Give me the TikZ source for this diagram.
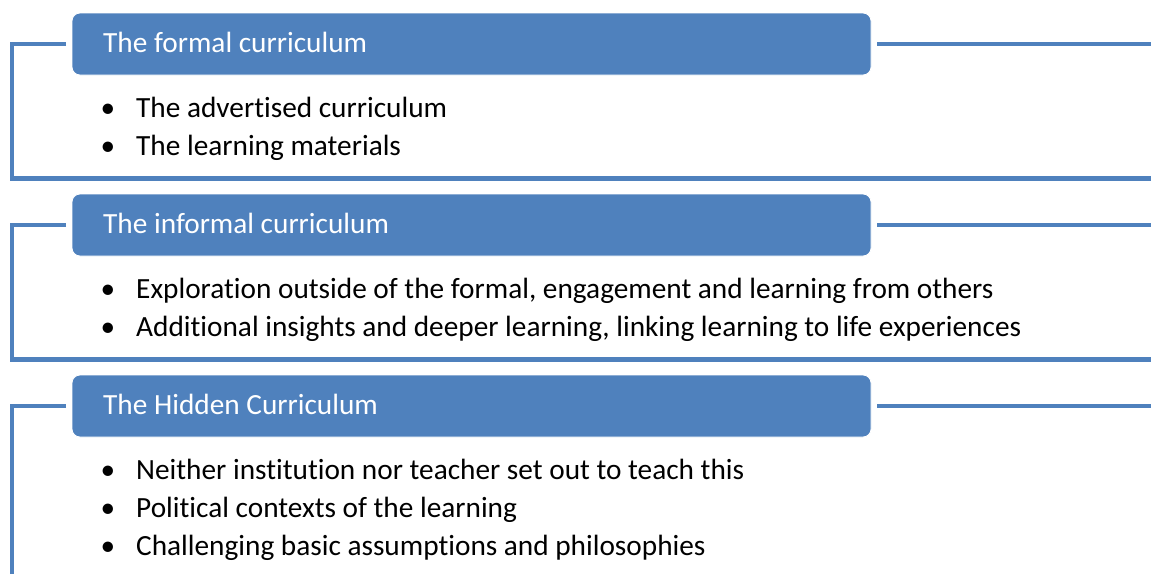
\documentclass[tikz,border=0pt]{standalone}
\usepackage{fontspec}
\setmainfont{Carlito}[RawFeature={-liga}]
\definecolor{obl}{HTML}{4F81BD}
\begin{document}
\begin{tikzpicture}[x=1pt,y=-1pt,
  headbox/.style={fill=obl,draw=white,line width=0.8pt,rounded corners=8pt,minimum width=799pt,minimum height=62pt,inner sep=0pt},
  headtxt/.style={anchor=base west,text=white,inner sep=0pt,font=\fontsize{29.3}{35}\selectfont},
  itemtxt/.style={anchor=base west,text=black,inner sep=0pt,font=\fontsize{29.3}{35}\selectfont},
  bul/.style={anchor=base,text=black,inner sep=0pt,font=\fontsize{29.3}{35}\selectfont},
  frame/.style={draw=obl,line width=4.5pt,line join=miter}]
\useasboundingbox (0,0) rectangle (1151,573);
\begin{scope}
\clip (0,0) rectangle (1151,573);
% Section 1
\node[headbox] (b1) at (471.5,44) {};
\node[headtxt] (h1) at (103,52) {The formal curriculum};
\coordinate (l1a) at (66,44);
\coordinate (c1a) at (12,44);
\coordinate (c1b) at (12,178.5);
\coordinate (e1b) at (1160,178.5);
\coordinate (r1a) at (877,44);
\coordinate (e1a) at (1160,44);
\draw[frame] (l1a) -- (c1a) -- (c1b) -- (e1b);
\draw[frame] (r1a) -- (e1a);
\node[bul] (p11) at (108,117) {•};
\node[itemtxt] (t11) at (136,117) {The advertised curriculum};
\node[bul] (p12) at (108,155) {•};
\node[itemtxt] (t12) at (136,155) {The learning materials};
% Section 2
\node[headbox] (b2) at (471.5,225) {};
\node[headtxt] (h2) at (103,233) {The informal curriculum};
\coordinate (l2a) at (66,225);
\coordinate (c2a) at (12,225);
\coordinate (c2b) at (12,359.5);
\coordinate (e2b) at (1160,359.5);
\coordinate (r2a) at (877,225);
\coordinate (e2a) at (1160,225);
\draw[frame] (l2a) -- (c2a) -- (c2b) -- (e2b);
\draw[frame] (r2a) -- (e2a);
\node[bul] (p21) at (108,298) {•};
\node[itemtxt] (t21) at (136,298) {Exploration outside of the formal, engagement and learning from others};
\node[bul] (p22) at (108,336) {•};
\node[itemtxt] (t22) at (136,336) {Additional insights and deeper learning, linking learning to life experiences};
% Section 3
\node[headbox] (b3) at (471.5,406) {};
\node[headtxt] (h3) at (103,414) {The Hidden Curriculum};
\coordinate (l3a) at (66,406);
\coordinate (c3a) at (12,406);
\coordinate (c3b) at (12,600);
\coordinate (r3a) at (877,406);
\coordinate (e3a) at (1160,406);
\draw[frame] (l3a) -- (c3a) -- (c3b);
\draw[frame] (r3a) -- (e3a);
\node[bul] (p31) at (108,479) {•};
\node[itemtxt] (t31) at (136,479) {Neither institution nor teacher set out to teach this};
\node[bul] (p32) at (108,517) {•};
\node[itemtxt] (t32) at (136,517) {Political contexts of the learning};
\node[bul] (p33) at (108,555) {•};
\node[itemtxt] (t33) at (136,555) {Challenging basic assumptions and philosophies};
\end{scope}
\end{tikzpicture}
\end{document}
